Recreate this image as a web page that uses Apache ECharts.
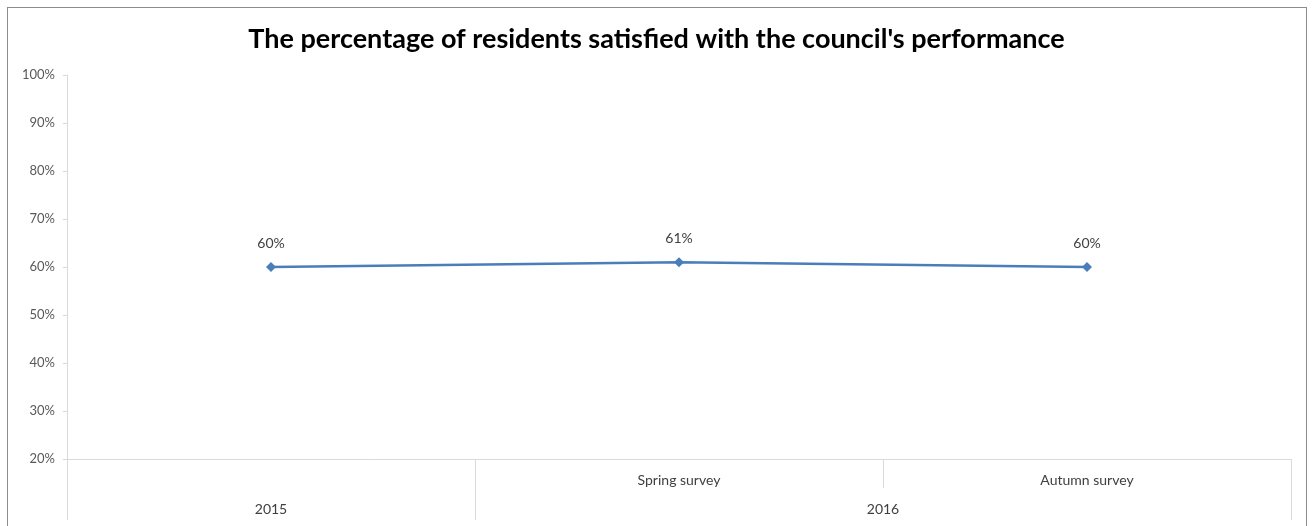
<!DOCTYPE html>
<html>
<head>
<meta charset="utf-8">
<script src="https://cdn.jsdelivr.net/npm/echarts@6/dist/echarts.min.js"></script>
<style>
  html, body { margin: 0; padding: 0; background: #fff; }
  #chart { position: absolute; left: 0; top: 0; width: 1313px; height: 526px; }
  #frame { position: absolute; left: 7px; top: 7px; width: 1298px; height: 540px; border: 1px solid #8c8c8c; pointer-events: none; }
</style>
</head>
<body>
<div id="chart"></div>
<div id="frame"></div>
<script>
const titleText = "The percentage of residents satisfied with the council's performance";
const surveys = ['', 'Spring survey', 'Autumn survey'];
const years = ['2015', '2016'];
const yearSpans = [1, 2];
const satisfied = [60, 61, 60];
const yTicks = { min: 20, max: 100, step: 10 };

// year group boundaries and centers on the category index scale
const yearBounds = [0];
const yearCenters = [];
let acc = 0;
yearSpans.forEach(function (s) { yearCenters.push(acc + s / 2); acc += s; yearBounds.push(acc); });

const axisGrey = '#d9d9d9';
const chart = echarts.init(document.getElementById('chart'));
chart.setOption({
  animation: false,
  title: {
    text: titleText,
    left: 'center',
    top: 21,
    textStyle: { fontFamily: 'Lato', fontWeight: 'bold', fontSize: 27, color: '#000' }
  },
  grid: { left: 67, right: 22, top: 75, bottom: 67 },
  xAxis: [
    {
      type: 'category',
      data: surveys,
      boundaryGap: true,
      axisLine: { show: true, lineStyle: { color: axisGrey, width: 1 } },
      axisTick: { show: true, interval: 0, length: 29, lineStyle: { color: axisGrey } },
      axisLabel: { interval: 0, margin: 14, fontFamily: 'Lato', fontSize: 14, color: '#404040' },
      splitLine: { show: false }
    },
    {
      type: 'value',
      position: 'bottom',
      offset: 29,
      min: 0,
      max: surveys.length,
      axisLine: { show: false },
      axisTick: { show: true, customValues: yearBounds, length: 32, lineStyle: { color: axisGrey } },
      axisLabel: {
        customValues: yearCenters,
        margin: 14,
        fontFamily: 'Lato', fontSize: 14, color: '#404040',
        formatter: function (v) {
          const i = yearCenters.indexOf(v);
          return i >= 0 ? years[i] : '';
        }
      },
      splitLine: { show: false }
    }
  ],
  yAxis: {
    type: 'value',
    min: yTicks.min,
    max: yTicks.max,
    interval: yTicks.step,
    axisLine: { show: true, lineStyle: { color: axisGrey } },
    axisTick: { show: true, length: 4, lineStyle: { color: axisGrey } },
    axisLabel: { formatter: '{value}%', margin: 12, fontFamily: 'Lato', fontSize: 13, color: '#595959' },
    splitLine: { show: false }
  },
  series: [{
    type: 'line',
    data: satisfied,
    xAxisIndex: 0,
    yAxisIndex: 0,
    symbol: 'diamond',
    symbolSize: 10,
    itemStyle: { color: '#4a7ebb' },
    lineStyle: { color: '#4a7ebb', width: 2.5 },
    label: { show: true, position: 'top', distance: 12, formatter: '{c}%', fontFamily: 'Lato', fontSize: 14, color: '#404040' }
  }]
});
</script>
</body>
</html>
